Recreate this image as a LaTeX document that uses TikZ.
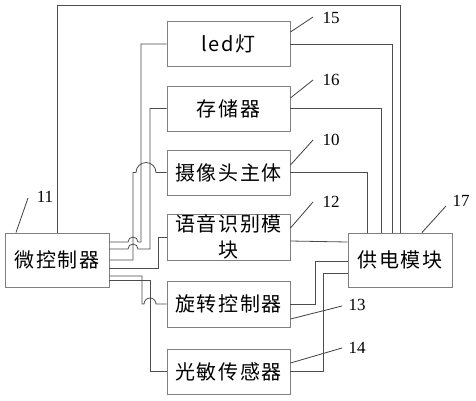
\documentclass[tikz,border=0pt]{standalone}
\usepackage{fontspec}
\newfontfamily\cjk[LetterSpace=8]{Noto Sans CJK SC}
\newfontfamily\numfont{Liberation Serif}
\begin{document}
\begin{tikzpicture}[x=1pt,y=-1pt,
  box/.style={draw=black!50,line width=0.9pt,minimum width=123pt,minimum height=45pt,inner sep=0pt,
    font=\cjk\fontsize{20}{26}\selectfont,align=center},
  bigbox/.style={box,minimum width=104pt,minimum height=54pt},
  wire/.style={draw=black!70,line width=0.8pt},
  num/.style={font=\numfont\fontsize{17}{17}\selectfont,inner sep=0pt},
  lead/.style={draw=black!75,line width=0.8pt}]
\useasboundingbox[fill=white] (0,0) rectangle (476,400);

% modules
\node[box] (led)   at (228.5,44)    {led灯};
\node[box] (store) at (228.5,108.5) {存储器};
\node[box] (cam)   at (228.5,172.5) {摄像头主体};
\node[box,minimum height=46pt] (voice) at (228.5,237) {语音识别模\\块};
\node[box,minimum height=46pt] (rot)   at (228.5,304) {旋转控制器};
\node[box] (light) at (228.5,371.5) {光敏传感器};
\node[bigbox] (mcu) at (57,260)  {微控制器};
\node[bigbox] (pwr) at (400,260) {供电模块};

% controller -> modules
\draw[wire] (mcu.east |- 0,242) -- (128,242) arc[start angle=180,end angle=0,radius=5pt] -- (141,242) -- (141,44) -- (led.west);
\draw[wire] (mcu.east |- 0,249) -- (128,249) arc[start angle=180,end angle=0,radius=5pt] -- (150,249) -- (150,108.5) -- (store.west);
\draw[wire] (mcu.east |- 0,260) -- (133,260) -- (133,172.5) -- (136,172.5) arc[start angle=180,end angle=0,radius=10pt] -- (cam.west);
\draw[wire] (mcu.east |- 0,268) -- (158,268) -- (158,237) -- (voice.west);
\draw[wire] (mcu.east |- 0,276) -- (142,276) -- (142,304) -- (144,304) arc[start angle=180,end angle=0,radius=6pt] -- (rot.west);
\draw[wire] (mcu.east |- 0,280) -- (150,280) -- (150,371.5) -- (light.west);

% power wiring
\draw[wire] (mcu.north) -- (57,5) -- (400,5) -- (pwr.north);
\draw[wire] (led.east) -- (392,44) -- (pwr.north -| 392,0);
\draw[wire] (store.east) -- (381,108.5) -- (pwr.north -| 381,0);
\draw[wire] (cam.east) -- (367,172.5) -- (pwr.north -| 367,0);
\draw[wire] (voice.east |- 0,241) -- (pwr.west |- 0,242);
\draw[wire] (rot.east) -- (315,304) -- (315,261) -- (pwr.west |- 0,261);
\draw[wire] (light.east) -- (323,371.5) -- (323,273) -- (pwr.west |- 0,273);

% labels
\node[num] (n15) at (331,18)  {15};
\node[num] (n16) at (331,80)  {16};
\node[num] (n10) at (331,140) {10};
\node[num] (n12) at (331,202) {12};
\node[num] (n17) at (461,201) {17};
\node[num] (n13) at (357,305) {13};
\node[num] (n14) at (357,348) {14};
\node[num] (n11) at (45,197)  {11};
\coordinate (e15) at (313,17);
\coordinate (e16) at (313,80);
\coordinate (e10) at (313,140);
\coordinate (e12) at (313,202);
\coordinate (e17) at (446,206);
\coordinate (e13) at (342,306);
\coordinate (e14) at (342,348);
\coordinate (e11) at (28,198);
\draw[lead] (led.east |- 0,32) -- (e15);
\draw[lead] (store.east |- 0,98) -- (e16);
\draw[lead] (cam.east |- 0,165) -- (e10);
\draw[lead] (voice.east |- 0,228) -- (e12);
\draw[lead] (pwr.north -| 422,0) -- (e17);
\draw[lead] (rot.east |- 0,319) -- (e13);
\draw[lead] (light.east |- 0,363) -- (e14);
\draw[lead] (mcu.north -| 16,0) -- (e11);
\end{tikzpicture}
\end{document}
